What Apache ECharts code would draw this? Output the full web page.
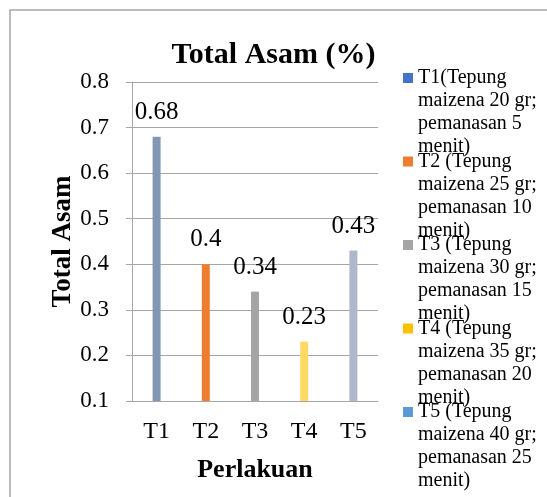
<!DOCTYPE html>
<html>
<head>
<meta charset="utf-8">
<script src="https://cdn.jsdelivr.net/npm/echarts@6/dist/echarts.min.js"></script>
<style>
  html, body { margin: 0; padding: 0; background: #fff; }
  #chart { width: 547px; height: 497px; }
</style>
</head>
<body>
<div id="chart"></div>
<script>
"use strict";
var categories = ["T1", "T2", "T3", "T4", "T5"];
var values = [0.68, 0.4, 0.34, 0.23, 0.43];
var legendText = [
    "T1(Tepung\nmaizena 20 gr;\npemanasan 5\nmenit)",
    "T2 (Tepung\nmaizena 25 gr;\npemanasan 10\nmenit)",
    "T3 (Tepung\nmaizena 30 gr;\npemanasan 15\nmenit)",
    "T4 (Tepung\nmaizena 35 gr;\npemanasan 20\nmenit)",
    "T5 (Tepung\nmaizena 40 gr;\npemanasan 25\nmenit)"
];
var barColors = ["#8297B3", "#ED7D31", "#A5A5A5", "#FFD966", "#ADB9CA"];
var legendColors = ["#4472C4", "#ED7D31", "#A5A5A5", "#FFC000", "#5B9BD5"];
var yTicks = [0.1, 0.8, 0.1]; // min, max, interval

var font = "'Liberation Serif', 'Times New Roman', serif";

// one series per treatment so the legend gets one entry each
var series = categories.map(function (name, i) {
    var data = categories.map(function (c, j) { return j === i ? values[i] : "-"; });
    return {
        name: name,
        type: "bar",
        barWidth: 8,
        barGap: "-100%",
        data: data,
        itemStyle: { color: barColors[i] },
        label: {
            show: true,
            position: "top",
            distance: 12,
            color: "#000",
            fontFamily: font,
            fontSize: 25
        }
    };
});

var chart = echarts.init(document.getElementById("chart"));
chart.setOption({
    animation: false,
    title: {
        text: "Total Asam (%)",
        left: "center",
        top: 35,
        textStyle: { fontFamily: font, fontSize: 30, fontWeight: "bold", color: "#000" }
    },
    legend: {
        orient: "vertical",
        left: 403,
        top: -2.5,
        padding: 0,
        itemWidth: 10,
        itemHeight: 10,
        itemGap: -77.5,
        icon: "rect",
        data: categories.map(function (c, i) {
            return { name: c, itemStyle: { color: legendColors[i] } };
        }),
        // 3 empty lines first, so the first real line is centred on the marker
        formatter: function (name) { return "\n\n\n" + legendText[categories.indexOf(name)]; },
        textStyle: {
            fontFamily: font,
            fontSize: 20,
            lineHeight: 23,
            color: "#000"
        }
    },
    grid: { left: 132, right: 169, top: 82, bottom: 96 },
    xAxis: {
        type: "category",
        data: categories,
        name: "Perlakuan",
        nameLocation: "middle",
        nameGap: 56,
        nameTextStyle: { fontFamily: font, fontSize: 26, fontWeight: "bold", color: "#000" },
        axisLine: { lineStyle: { color: "#A6A6A6" } },
        axisTick: { length: 6, lineStyle: { color: "#A6A6A6" } },
        axisLabel: { margin: 19, fontFamily: font, fontSize: 24, color: "#000" }
    },
    yAxis: {
        type: "value",
        min: yTicks[0],
        max: yTicks[1],
        interval: yTicks[2],
        name: "Total Asam",
        nameLocation: "middle",
        nameGap: 52,
        nameTextStyle: { fontFamily: font, fontSize: 27, fontWeight: "bold", color: "#000" },
        axisLine: { show: true, lineStyle: { color: "#A6A6A6" } },
        axisTick: { show: true, length: 6, lineStyle: { color: "#A6A6A6" } },
        axisLabel: {
            margin: 23, fontFamily: font, fontSize: 23, color: "#000",
            formatter: function (v) { return String(Math.round(v * 10) / 10); }
        },
        splitLine: { lineStyle: { color: "#A6A6A6" } }
    },
    graphic: [{
        type: "rect",
        shape: { x: 10, y: 10, width: 600, height: 600 },
        style: { fill: "none", stroke: "#A6A6A6", lineWidth: 1.5 },
        z: -1
    }],
    series: series
});
</script>
</body>
</html>
